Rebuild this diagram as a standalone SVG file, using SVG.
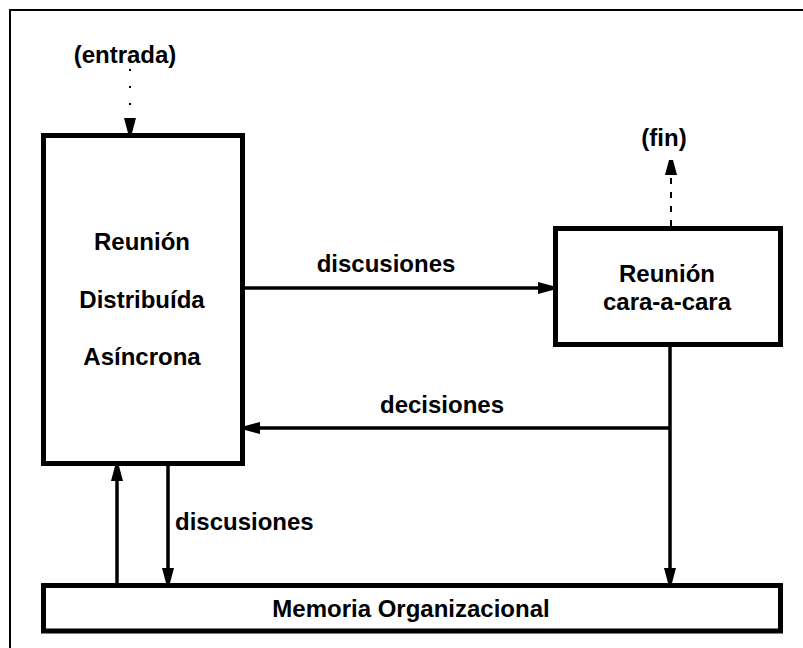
<svg xmlns="http://www.w3.org/2000/svg" width="803" height="648" viewBox="0 0 803 648">
<style>
text { font-family: "Liberation Sans", Arial, sans-serif; font-weight: bold; font-size: 24px; fill: #000; }
.box { fill: #fff; stroke: #000; stroke-width: 5; }
.conn { fill: none; stroke: #000; stroke-width: 3.5; }
.dot { fill: none; stroke: #000; stroke-width: 2; stroke-dasharray: 2 15; }
.dash { fill: none; stroke: #000; stroke-width: 2; stroke-dasharray: 6 8; }
</style>
<defs>
<marker id="ah" markerUnits="userSpaceOnUse" markerWidth="15" markerHeight="13" viewBox="0 0 15 13" refX="15" refY="6.5" orient="auto">
<path d="M0,0.5 L15,4.5 L15,8.5 L0,12.5 Z" fill="#000"/>
</marker>
</defs>
<rect x="0" y="0" width="803" height="648" fill="#fff"/>
<g id="frame">
<path d="M10,648 V10 H803" fill="none" stroke="#000" stroke-width="2"/>
</g>
<g id="connectors">
<line class="dot" x1="130" y1="69" x2="130" y2="133" marker-end="url(#ah)"/>
<line class="dash" x1="671" y1="226" x2="671" y2="160" marker-end="url(#ah)"/>
<line class="conn" x1="245" y1="288" x2="553" y2="288" marker-end="url(#ah)"/>
<line class="conn" x1="671" y1="428" x2="245" y2="428" marker-end="url(#ah)"/>
<line class="conn" x1="670" y1="347" x2="670" y2="583" marker-end="url(#ah)"/>
<line class="conn" x1="117" y1="583" x2="117" y2="466" marker-end="url(#ah)"/>
<line class="conn" x1="168" y1="466" x2="168" y2="583" marker-end="url(#ah)"/>
<text x="386" y="272" text-anchor="middle">discusiones</text>
<text x="442" y="413" text-anchor="middle">decisiones</text>
<text x="175" y="530">discusiones</text>
<text x="125" y="63" text-anchor="middle">(entrada)</text>
<text x="664" y="146" text-anchor="middle">(fin)</text>
</g>
<g id="node-distribuida">
<rect class="box" x="43.5" y="135.5" width="199" height="328"/>
<text x="142" y="250" text-anchor="middle">Reunión</text>
<text x="142" y="308" text-anchor="middle">Distribuída</text>
<text x="142" y="365" text-anchor="middle">Asíncrona</text>
</g>
<g id="node-caraacara">
<rect class="box" x="555.5" y="228.5" width="225" height="116"/>
<text x="667" y="282" text-anchor="middle">Reunión</text>
<text x="667" y="310" text-anchor="middle">cara-a-cara</text>
</g>
<g id="node-memoria">
<rect class="box" x="43.5" y="585.5" width="737" height="45.5"/>
<text x="411" y="617" text-anchor="middle">Memoria Organizacional</text>
</g>
</svg>
